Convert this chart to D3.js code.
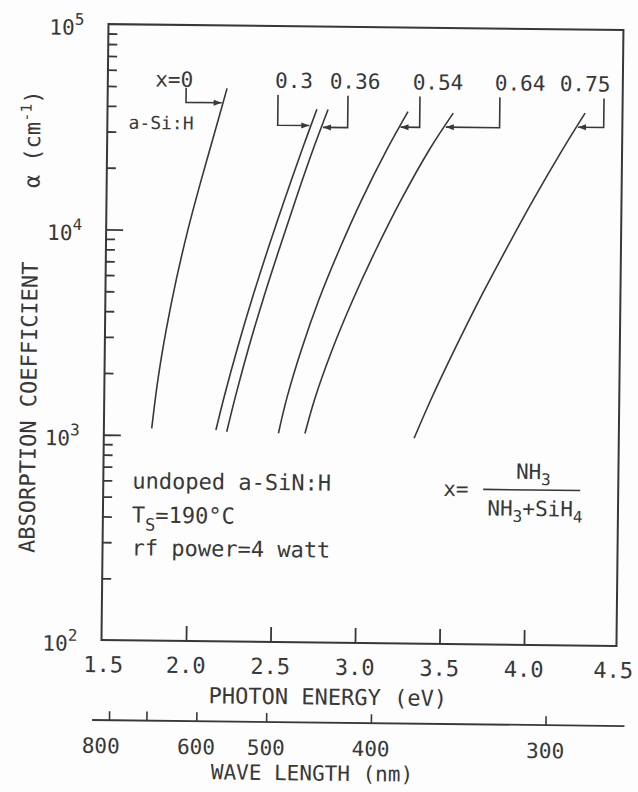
<!DOCTYPE html>
<html>
<head>
<meta charset="utf-8">
<script src="https://cdn.jsdelivr.net/npm/d3@7"></script>
<style>
  body { margin: 0; background: #fdfdfd; }
  svg { display: block; }
  text { font-family: "DejaVu Sans Mono", "Liberation Mono", monospace; fill: #383838; }
</style>
</head>
<body>
<svg id="chart" width="638" height="792"></svg>
<script>
// ---- data: absorption edge of undoped a-SiN:H films, x = NH3/(NH3+SiH4) ----
const seriesNames = ["x=0", "0.3", "0.36", "0.54", "0.64", "0.75"];

// photon energy (eV) and absorption coefficient (cm^-1) along each curve
const energyX00 = [1.783, 1.816, 1.862, 1.918, 1.983, 2.059, 2.140, 2.206];
const alphaX00  = [1080, 1860, 3270, 5730, 10000, 17600, 31000, 49400];

const energyX30 = [2.163, 2.210, 2.287, 2.372, 2.463, 2.560, 2.660, 2.739];
const alphaX30  = [1070, 1560, 2730, 4800, 8410, 14800, 25900, 39500];

const energyX36 = [2.227, 2.276, 2.353, 2.438, 2.530, 2.625, 2.725, 2.805];
const alphaX36  = [1050, 1560, 2740, 4800, 8430, 14800, 26000, 39500];

const energyX54 = [2.533, 2.580, 2.665, 2.765, 2.880, 3.010, 3.154, 3.278];
const alphaX54  = [1040, 1540, 2690, 4710, 8180, 14400, 25200, 38900];

const energyX64 = [2.690, 2.746, 2.846, 2.964, 3.097, 3.244, 3.406, 3.546];
const alphaX64  = [1040, 1540, 2680, 4680, 8220, 14500, 25400, 38500];

const energyX75 = [3.336, 3.432, 3.568, 3.712, 3.866, 4.025, 4.193, 4.326];
const alphaX75  = [1000, 1540, 2700, 4750, 8360, 14700, 25800, 39200];

// axis ticks
const energyTickLabels = [1.5, 2.0, 2.5, 3.0, 3.5, 4.0, 4.5];
const energyTickMarks  = [2.0, 2.5, 3.0, 3.5, 4.0];
const alphaDecades     = [1e2, 1e3, 1e4, 1e5];
const wavelengthTicks  = [800, 700, 600, 500, 400, 300];
const wavelengthLabels = [800, 600, 500, 400, 300];

// curve callouts: label position, bracket elbow, arrow height and tip (data units)
const calloutLabelE  = [1.893, 2.602, 2.963, 3.454, 3.940, 4.324];
const calloutLabelA  = [50000, 50000, 50000, 50000, 50000, 50000];
const calloutElbowE  = [1.964, 2.508, 2.922, 3.348, 3.821, 4.437];
const calloutArmA    = [42000, 32900, 32300, 32700, 32900, 33400];
const calloutTipE    = [2.175, 2.695, 2.776, 3.235, 3.503, 4.285];

// ---- layout ----
const svg = d3.select("#chart");
const ink = "#383838";
const plotLeft = 105, plotRight = 612, frameRight = 620, plotTop = 27, plotBottom = 643;

const x = d3.scaleLinear().domain([1.5, 4.5]).range([plotLeft, plotRight]);
const y = d3.scaleLog().domain([1e2, 1e5]).range([plotBottom, plotTop]);

// the sheet sits very slightly turned
const g = svg.append("g").attr("transform", "rotate(0.65 360 332)");

// frame
g.append("rect")
  .attr("x", plotLeft).attr("y", plotTop)
  .attr("width", frameRight - plotLeft).attr("height", plotBottom - plotTop)
  .attr("fill", "none").attr("stroke", ink).attr("stroke-width", 2);

// y axis: minor ticks 2..9 per decade, major at decades (all pointing inward)
const minorAlpha = [];
alphaDecades.slice(0, -1).forEach(d => { for (let k = 2; k <= 9; k++) minorAlpha.push(d * k); });

const yMinor = g.append("g").attr("transform", `translate(${plotLeft},0)`)
  .call(d3.axisRight(y).tickValues(minorAlpha).tickSize(9).tickFormat(""));
const yMajor = g.append("g").attr("transform", `translate(${plotLeft},0)`)
  .call(d3.axisRight(y).tickValues([1e3, 1e4]).tickSize(17).tickFormat(""));
[yMinor, yMajor].forEach(a => {
  a.select(".domain").remove();
  a.selectAll("line").attr("stroke", ink).attr("stroke-width", 1.8);
});

// y tick labels 10^n
const yLab = g.append("g").selectAll("text").data(alphaDecades).join("text")
  .attr("x", 46).attr("y", d => y(d) + 11)
  .attr("font-size", 21);
yLab.append("tspan").text("10");
yLab.append("tspan").attr("dy", -10).attr("font-size", 16)
  .text(d => Math.round(Math.log10(d)));

// x axis: inward ticks on the bottom edge
const xAx = g.append("g").attr("transform", `translate(0,${plotBottom})`)
  .call(d3.axisTop(x).tickValues(energyTickMarks).tickSize(15).tickFormat(""));
xAx.select(".domain").remove();
xAx.selectAll("line").attr("stroke", ink).attr("stroke-width", 1.8);

// end labels sit out toward the frame corners
g.append("g").selectAll("text").data(energyTickLabels).join("text")
  .attr("x", d => x(d) + (d === 4.5 ? 5 : d === 1.5 ? 2 : 0)).attr("y", 675)
  .attr("text-anchor", "middle").attr("font-size", 22)
  .text(d => d.toFixed(1));

g.append("text").attr("x", 332).attr("y", 705)
  .attr("text-anchor", "middle").attr("font-size", 22)
  .text("PHOTON ENERGY (eV)");

// wavelength axis (nm), placed on the same energy scale via E = 1239.8 / λ
const toEnergy = nm => 1239.8 / nm;
const wlY = 723;
g.append("line")
  .attr("x1", x(1.45)).attr("x2", x(4.6))
  .attr("y1", wlY).attr("y2", wlY)
  .attr("stroke", ink).attr("stroke-width", 1.8);
const wlAx = g.append("g").attr("transform", `translate(0,${wlY})`)
  .call(d3.axisTop(x).tickValues(wavelengthTicks.map(toEnergy)).tickSize(9).tickFormat(""));
wlAx.select(".domain").remove();
wlAx.selectAll("line").attr("stroke", ink).attr("stroke-width", 1.6);

g.append("g").selectAll("text").data(wavelengthLabels).join("text")
  .attr("x", d => x(toEnergy(d)) - (d === 800 ? 8 : 0)).attr("y", 756)
  .attr("text-anchor", "middle").attr("font-size", 21)
  .text(d => d);

g.append("text").attr("x", 317).attr("y", 781)
  .attr("text-anchor", "middle").attr("font-size", 21)
  .text("WAVE LENGTH (nm)");

// y axis title
g.append("text")
  .attr("transform", "translate(37,411) rotate(-90)")
  .attr("text-anchor", "middle").attr("font-size", 22)
  .text("ABSORPTION COEFFICIENT");
const unitTitle = g.append("text")
  .attr("transform", "translate(38,143) rotate(-90)")
  .attr("text-anchor", "middle").attr("font-size", 22);
unitTitle.append("tspan").text("\u03B1 (cm");
unitTitle.append("tspan").attr("dy", -9).attr("font-size", 15).text("-1");
unitTitle.append("tspan").attr("dy", 9).text(")");

// absorption curves
const seriesData = [
  [energyX00, alphaX00], [energyX30, alphaX30], [energyX36, alphaX36],
  [energyX54, alphaX54], [energyX64, alphaX64], [energyX75, alphaX75]
].map(([es, as], i) => ({ name: seriesNames[i], points: es.map((e, j) => ({ e, a: as[j] })) }));

const line = d3.line().x(d => x(d.e)).y(d => y(d.a)).curve(d3.curveCatmullRom.alpha(0.5));
g.append("g").selectAll("path").data(seriesData).join("path")
  .attr("d", d => line(d.points))
  .attr("fill", "none").attr("stroke", ink).attr("stroke-width", 1.6);

// callouts: label, bracket and arrow to each curve
const callouts = seriesNames.map((name, i) => ({
  name, lx: x(calloutLabelE[i]), ly: y(calloutLabelA[i]),
  ex: x(calloutElbowE[i]), ay: y(calloutArmA[i]), tx: x(calloutTipE[i])
}));
const co = g.append("g");
co.selectAll("text").data(callouts).join("text")
  .attr("x", d => d.lx).attr("y", d => d.ly)
  .attr("text-anchor", "middle").attr("font-size", 21)
  .text(d => d.name);
co.selectAll("path.bracket").data(callouts).join("path").attr("class", "bracket")
  .attr("d", d => `M${d.ex},${d.ly + (d.name === "x=0" ? 1 : 7)}V${d.ay}H${d.tx}`)
  .attr("fill", "none").attr("stroke", ink).attr("stroke-width", 1.6);
co.selectAll("path.head").data(callouts).join("path").attr("class", "head")
  .attr("d", d => {
    const s = Math.sign(d.tx - d.ex);
    return `M${d.tx},${d.ay}L${d.tx - s * 8},${d.ay - 3}L${d.tx - s * 8},${d.ay + 3}Z`;
  })
  .attr("fill", ink);

g.append("text")
  .attr("x", x(1.818)).attr("y", y(31000))
  .attr("text-anchor", "middle").attr("font-size", 18)
  .text("a-Si:H");

// deposition conditions
const cond = g.append("g").attr("font-size", 22);
cond.append("text").attr("x", 134).attr("y", 491).text("undoped a-SiN:H");
const ts = cond.append("text").attr("x", 134).attr("y", 525);
ts.append("tspan").text("T");
ts.append("tspan").attr("dy", 8).attr("font-size", 17).text("S");
ts.append("tspan").attr("dy", -8).text("=190\u00B0C");
cond.append("text").attr("x", 134).attr("y", 558).text("rf power=4 watt");

// gas ratio definition
const frac = g.append("g").attr("font-size", 21);
frac.append("text").attr("x", 445).attr("y", 495).text("x=");
g.append("line").attr("x1", 485).attr("x2", 582).attr("y1", 488).attr("y2", 488)
  .attr("stroke", ink).attr("stroke-width", 1.6);
const num = frac.append("text").attr("x", 535).attr("y", 477).attr("text-anchor", "middle");
num.append("tspan").text("NH");
num.append("tspan").attr("dy", 6).attr("font-size", 16).text("3");
const den = frac.append("text").attr("x", 537).attr("y", 514).attr("text-anchor", "middle");
den.append("tspan").text("NH");
den.append("tspan").attr("dy", 6).attr("font-size", 16).text("3");
den.append("tspan").attr("dy", -6).text("+SiH");
den.append("tspan").attr("dy", 6).attr("font-size", 16).text("4");
</script>
</body>
</html>
